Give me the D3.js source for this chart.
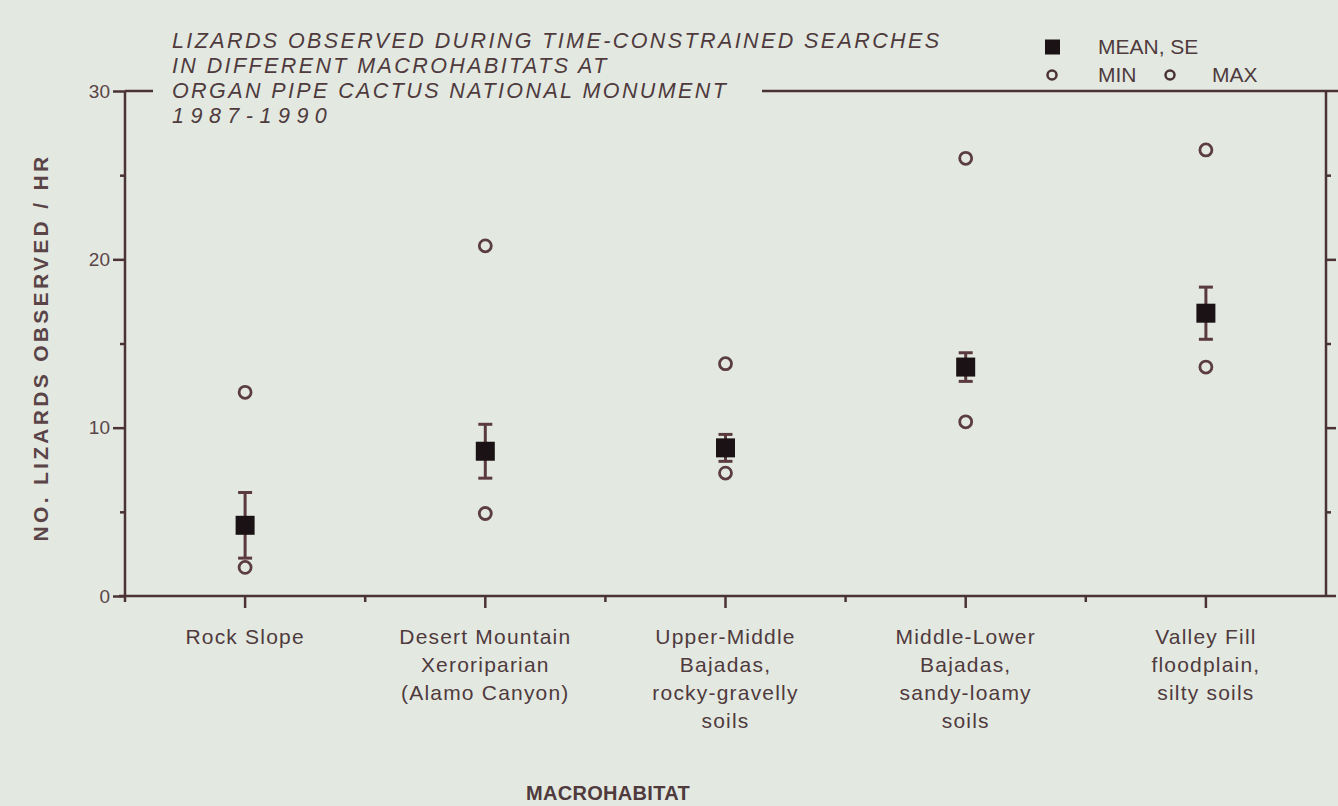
<!DOCTYPE html>
<html>
<head>
<meta charset="utf-8">
<script src="https://cdn.jsdelivr.net/npm/d3@7"></script>
<style>
  body { margin: 0; background: #e3e9e1; }
  svg { display: block; }
  text { font-family: "Liberation Sans", Arial, sans-serif; fill: #4f3a3d; }
</style>
</head>
<body>
<svg id="chart" width="1338" height="806"></svg>
<script>
'use strict';
// values (lizards observed / hr)
const categories = ["Rock Slope", "Desert Mountain", "Upper-Middle", "Middle-Lower", "Valley Fill"];
const categoryLines = [
    ["Rock Slope"],
    ["Desert Mountain", "Xeroriparian", "(Alamo Canyon)"],
    ["Upper-Middle", "Bajadas,", "rocky-gravelly", "soils"],
    ["Middle-Lower", "Bajadas,", "sandy-loamy", "soils"],
    ["Valley Fill", "floodplain,", "silty soils"]
];
const meanValues = [4.2, 8.6, 8.8, 13.6, 16.8];
const seValues = [1.95, 1.6, 0.8, 0.85, 1.55];
const minValues = [1.7, 4.9, 7.3, 10.35, 13.6];
const maxValues = [12.1, 20.8, 13.8, 26.0, 26.5];
const yTicks = [0, 10, 20, 30];
const yMinorTicks = [5, 15, 25];
const titleLines = [
    "LIZARDS OBSERVED DURING TIME-CONSTRAINED SEARCHES",
    "IN DIFFERENT MACROHABITATS AT",
    "ORGAN PIPE CACTUS NATIONAL MONUMENT",
    "1987-1990"
];

let data = categories.map((c, i) => ({
    cat: c, mean: meanValues[i], se: seValues[i], min: minValues[i], max: maxValues[i]
}));

let svg = d3.select("#chart");
const ink = "#4a3236";

let x = d3.scaleBand().domain(categories).range([125, 1326]);
let y = d3.scaleLinear().domain([0, 30]).range([596, 91]);
let cx = d => x(d) + x.bandwidth() / 2;

// x axis: long ticks at categories, short ticks at band edges
svg.append("g")
    .attr("transform", "translate(0," + y(0) + ")")
    .call(d3.axisBottom(x).tickSize(12).tickFormat(""))
    .call(g => g.select(".domain").attr("d", "M" + (x.range()[0] - 6) + ",0H1336"));
svg.append("g")
    .attr("transform", "translate(0," + y(0) + ")")
    .selectAll("line")
    .data(categories.slice(1))
    .enter().append("line")
    .attr("x1", d => x(d)).attr("x2", d => x(d))
    .attr("y1", 0).attr("y2", 6);

// left axis
svg.append("g")
    .attr("transform", "translate(" + x.range()[0] + ",0)")
    .call(d3.axisLeft(y).tickValues(yTicks).tickSize(12).tickPadding(3).tickFormat(d3.format("d")))
    .call(g => g.select(".domain").attr("d", "M0," + y(30) + "V" + (y(0) + 6)))
    .call(g => g.selectAll("text").attr("font-size", 19).style("fill", "#5a4448").attr("font-family", null));
svg.append("g")
    .attr("transform", "translate(" + x.range()[0] + ",0)")
    .call(d3.axisLeft(y).tickValues(yMinorTicks).tickSize(5).tickFormat(""))
    .call(g => g.select(".domain").remove());

// right axis
let xr = x.range()[1];
svg.append("g")
    .attr("transform", "translate(" + xr + ",0)")
    .call(d3.axisRight(y).tickValues([10, 20]).tickSize(10).tickFormat(""))
    .call(g => g.select(".domain").attr("d", "M0," + y(30) + "V" + y(0)));
svg.append("g")
    .attr("transform", "translate(" + xr + ",0)")
    .call(d3.axisRight(y).tickValues(yMinorTicks).tickSize(5).tickFormat(""))
    .call(g => g.select(".domain").remove());

// top frame line, broken by the title
svg.append("line").attr("x1", x.range()[0]).attr("x2", 153).attr("y1", y(30)).attr("y2", y(30));
svg.append("line").attr("x1", 762).attr("x2", 1338).attr("y1", y(30)).attr("y2", y(30));

svg.selectAll(".domain, .tick line, line")
    .attr("stroke", ink).attr("stroke-width", 2.5);

// title
svg.append("g").selectAll("text")
    .data(titleLines)
    .enter().append("text")
    .attr("x", 172)
    .attr("y", (d, i) => y(30) + 7 + (i - 2) * 25)
    .attr("font-size", 21.5)
    .attr("font-style", "italic")
    .attr("letter-spacing", (d, i) => i == 3 ? 6.5 : 2.4)
    .text(d => d);

// legend
let lg = svg.append("g");
let row1 = y(30) - 44, row2 = y(30) - 16;
lg.append("rect").attr("x", 1045).attr("y", row1 - 7.5).attr("width", 15).attr("height", 15).attr("fill", "#1a1214");
lg.append("text").attr("x", 1098).attr("y", row1 + 7).attr("font-size", 21).text("MEAN, SE");
lg.append("circle").attr("cx", 1052).attr("cy", row2).attr("r", 4.5)
    .attr("fill", "none").attr("stroke", ink).attr("stroke-width", 2.5);
lg.append("text").attr("x", 1098).attr("y", row2 + 7).attr("font-size", 21).text("MIN");
lg.append("circle").attr("cx", 1170).attr("cy", row2).attr("r", 4.5)
    .attr("fill", "none").attr("stroke", ink).attr("stroke-width", 2.5);
lg.append("text").attr("x", 1212).attr("y", row2 + 7).attr("font-size", 21).text("MAX");

// data marks
let g = svg.append("g").selectAll("g")
    .data(data)
    .enter().append("g");

g.append("line")
    .attr("x1", d => cx(d.cat)).attr("x2", d => cx(d.cat))
    .attr("y1", d => y(d.mean + d.se)).attr("y2", d => y(d.mean - d.se))
    .attr("stroke", "#5a3a3e").attr("stroke-width", 3);
g.selectAll(".cap")
    .data(d => [d.mean + d.se, d.mean - d.se].map(v => ({cat: d.cat, v: v})))
    .enter().append("line")
    .attr("class", "cap")
    .attr("x1", d => cx(d.cat) - 7).attr("x2", d => cx(d.cat) + 7)
    .attr("y1", d => y(d.v)).attr("y2", d => y(d.v))
    .attr("stroke", "#5a3a3e").attr("stroke-width", 3);
g.append("rect")
    .attr("x", d => cx(d.cat) - 9.5).attr("y", d => y(d.mean) - 9.5)
    .attr("width", 19).attr("height", 19)
    .attr("fill", "#1a1214");
g.selectAll("circle")
    .data(d => [d.min, d.max].map(v => ({cat: d.cat, v: v})))
    .enter().append("circle")
    .attr("cx", d => cx(d.cat)).attr("cy", d => y(d.v))
    .attr("r", 6)
    .attr("fill", "none").attr("stroke", "#5b3d40").attr("stroke-width", 2.8);

// category labels
svg.append("g").selectAll("text")
    .data(categoryLines)
    .enter().append("text")
    .attr("text-anchor", "middle")
    .attr("font-size", 21)
    .attr("letter-spacing", 1.2)
    .attr("transform", (d, i) => "translate(" + cx(categories[i]) + "," + (y(0) + 48) + ")")
    .selectAll("tspan")
    .data(d => d)
    .enter().append("tspan")
    .attr("x", 0)
    .attr("y", (d, i) => i * 28)
    .text(d => d);

// axis titles
svg.append("text")
    .attr("transform", "translate(48," + (y(15) + 4) + ") rotate(-90)")
    .attr("text-anchor", "middle")
    .attr("font-size", 21).attr("font-weight", "bold").attr("letter-spacing", 3.3)
    .style("fill", "#5a4448")
    .text("NO. LIZARDS OBSERVED / HR");
svg.append("text")
    .attr("x", 608).attr("y", 800)
    .attr("text-anchor", "middle")
    .attr("font-size", 20).attr("font-weight", "bold").attr("letter-spacing", 0.3)
    .text("MACROHABITAT");
</script>
</body>
</html>
